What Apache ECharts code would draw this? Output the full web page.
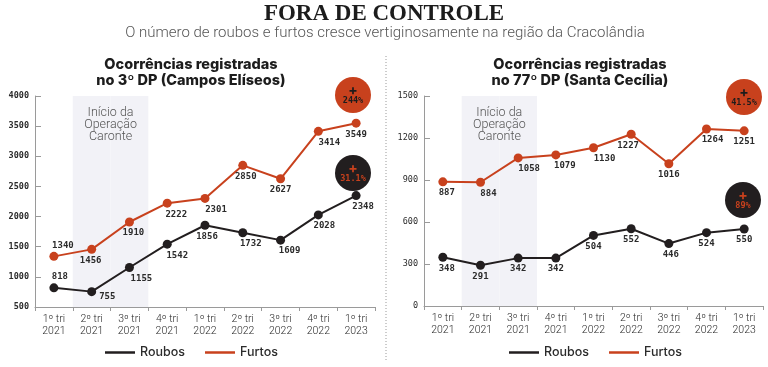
<!DOCTYPE html>
<html><head><meta charset="utf-8">
<script src="https://cdn.jsdelivr.net/npm/echarts@6/dist/echarts.min.js"></script>
<style>html,body{margin:0;padding:0;background:#fff}#c{width:768px;height:367px}</style>
</head><body><div id="c"></div>
<script>
// ---- data ----
const categories = ['1º tri\n2021','2º tri\n2021','3º tri\n2021','4º tri\n2021','1º tri\n2022','2º tri\n2022','3º tri\n2022','4º tri\n2022','1º tri\n2023'];
const operacaoCaronte = ['2º tri\n2021','3º tri\n2021'];
const roubos3DP  = [818, 755, 1155, 1542, 1856, 1732, 1609, 2028, 2348];
const furtos3DP  = [1340, 1456, 1910, 2222, 2301, 2850, 2627, 3414, 3549];
const roubos77DP = [348, 291, 342, 342, 504, 552, 446, 524, 550];
const furtos77DP = [887, 884, 1058, 1079, 1130, 1227, 1016, 1264, 1251];
const yTicks3DP  = [500, 1000, 1500, 2000, 2500, 3000, 3500, 4000];
const yTicks77DP = [0, 300, 600, 900, 1200, 1500];
const growthFurtos = ['244%', '41.5%'];
const growthRoubos = ['31.1%', '89%'];
const seriesNames = ['Roubos', 'Furtos'];
const bandText = ['Início da', 'Operação', 'Caronte'];

// ---- label placement (style only) ----
const lpFurtos3DP  = [['top',9],['bottom',-1],['bottom',4],['bottom',9],['bottom',11],['bottom',3],['bottom',0],['bottom',11],['bottom',0]];
const lpRoubos3DP  = [['top',6],['right',0],['bottom',12],['bottom',10],['bottom',2],['bottom',8],['bottom',9],['bottom',6],['bottom',7]];
const lpFurtos77DP = [['bottom',4],['bottom',8],['bottom',11],['bottom',9],['bottom',11],['bottom',-3],['bottom',0],['bottom',6],['bottom',0]];
const lpRoubos77DP = [['bottom',4],['bottom',0],['bottom',0],['bottom',0],['bottom',0],['bottom',0],['bottom',2],['bottom',0],['bottom',0]];

const RED = '#c8411d', BLACK = '#221e1f', AXIS = '#9a9a9a', TXT = '#2b2b2b';
const MONO = '"DejaVu Sans Mono", monospace';
const SANS = 'Inter, Roboto, sans-serif';

function pts(vals, lp) {
  return vals.map((v, i) => {
    const [pos, dx] = lp[i];
    const lab = { position: pos, offset: [dx, 0] };
    if (pos === 'right') { lab.offset = [0, 5]; lab.distance = 3; }
    return { value: v, label: lab };
  });
}
function lineSeries(name, vals, lp, color, idx) {
  return {
    name, type: 'line', xAxisIndex: idx, yAxisIndex: idx,
    data: pts(vals, lp), symbol: 'circle', symbolSize: 9,
    lineStyle: { color, width: 2 }, itemStyle: { color },
    label: { show: true, distance: 2, fontFamily: MONO, fontWeight: 'bold', fontSize: 9, color: TXT },
    z: 3
  };
}
function bandSeries(idx, ticks) {
  const top = ticks[ticks.length - 1];
  return {
    type: 'bar', xAxisIndex: idx, yAxisIndex: idx, silent: true,
    data: categories.map(c => operacaoCaronte.includes(c) ? top : '-'),
    barWidth: '100%', itemStyle: { color: '#f2f2f7' }, z: 0
  };
}
function xAxis(idx) {
  return {
    type: 'category', gridIndex: idx, data: categories, boundaryGap: true,
    axisLine: { lineStyle: { color: AXIS, width: 1 } },
    axisTick: { show: true, length: 4, lineStyle: { color: AXIS } },
    axisLabel: { fontFamily: 'Roboto', fontWeight: 300, fontSize: 10.5, lineHeight: 12, color: TXT, margin: 6, interval: 0 }
  };
}
function yAxis(idx, ticks, bold) {
  return {
    type: 'value', gridIndex: idx, min: ticks[0], max: ticks[ticks.length - 1],
    interval: ticks[1] - ticks[0],
    axisLine: { show: true, lineStyle: { color: AXIS } },
    axisTick: { show: true, inside: true, length: 6, lineStyle: { color: AXIS } },
    splitLine: { show: false },
    axisLabel: { fontFamily: MONO, fontWeight: bold ? 'bold' : 'normal', fontSize: 8.5, color: TXT, margin: 6,
      formatter: v => String(v) }
  };
}
function badge(cx, cy, fill, fg, txt) {
  return {
    type: 'group', x: cx, y: cy, silent: true, children: [
      { type: 'circle', shape: { cx: 0, cy: 0, r: 18 }, style: { fill } },
      { type: 'text', x: 0, y: -4, style: { text: '+', fill: fg, fontFamily: SANS, fontWeight: 'bold', fontSize: 14, align: 'center', verticalAlign: 'middle' } },
      { type: 'text', x: 0, y: 6, style: { text: txt, fill: fg, fontFamily: MONO, fontWeight: 'bold', fontSize: 8.5, align: 'center', verticalAlign: 'middle' } }
    ]
  };
}
const legendBase = {
  data: seriesNames, icon: 'rect', itemWidth: 30, itemHeight: 2.5, itemGap: 20, top: 341,
  textStyle: { fontFamily: SANS, fontWeight: 500, fontSize: 12.5, color: TXT }, selectedMode: false
};
const subTitleStyle = { fontFamily: SANS, fontWeight: 800, fontSize: 14.5, color: '#1c1c1c', lineHeight: 16 };

const chart = echarts.init(document.getElementById('c'));
chart.setOption({
  animation: false,
  backgroundColor: '#fff',
  title: [
    { text: 'FORA DE CONTROLE', left: 384, textAlign: 'center', top: 3, padding: 0,
      textStyle: { fontFamily: '"Liberation Serif", serif', fontWeight: 'bold', fontSize: 23, color: '#1c1c1c' } },
    { text: 'O número de roubos e furtos cresce vertiginosamente na região da Cracolândia', left: 385, textAlign: 'center', top: 26, padding: 0,
      textStyle: { fontFamily: 'Roboto', fontWeight: 300, fontSize: 15, color: '#555' } },
    { text: 'Ocorrências registradas\nno 3º DP (Campos Elíseos)', left: 191, textAlign: 'center', top: 57, padding: 0, textStyle: subTitleStyle },
    { text: 'Ocorrências registradas\nno 77º DP (Santa Cecília)', left: 580, textAlign: 'center', top: 57, padding: 0, textStyle: subTitleStyle }
  ],
  legend: [
    Object.assign({ left: 100 }, legendBase),
    Object.assign({ left: 504 }, legendBase)
  ],
  grid: [
    { left: 35, right: 393, top: 96, bottom: 60 },
    { left: 424, right: 5, top: 96, bottom: 61 }
  ],
  xAxis: [xAxis(0), xAxis(1)],
  yAxis: [yAxis(0, yTicks3DP, true), yAxis(1, yTicks77DP, false)],
  series: [
    bandSeries(0, yTicks3DP),
    bandSeries(1, yTicks77DP),
    lineSeries(seriesNames[0], roubos3DP, lpRoubos3DP, BLACK, 0),
    lineSeries(seriesNames[1], furtos3DP, lpFurtos3DP, RED, 0),
    lineSeries(seriesNames[0], roubos77DP, lpRoubos77DP, BLACK, 1),
    lineSeries(seriesNames[1], furtos77DP, lpFurtos77DP, RED, 1)
  ]
});

// annotations placed from the axes
function bandLabels(idx, ticks) {
  const a = chart.convertToPixel({ gridIndex: idx }, [operacaoCaronte[0], ticks[ticks.length - 1]]);
  const b = chart.convertToPixel({ gridIndex: idx }, [operacaoCaronte[operacaoCaronte.length - 1], ticks[ticks.length - 1]]);
  const cx = (a[0] + b[0]) / 2;
  return bandText.map((t, i) => ({
    type: 'text', x: cx, y: a[1] + 17 + i * 12, silent: true, z: 10,
    style: { text: t, fill: '#555', fontFamily: 'Roboto', fontWeight: 300, fontSize: 12.5, align: 'center', verticalAlign: 'middle' }
  }));
}
chart.setOption({
  graphic: [
    { type: 'line', shape: { x1: 386, y1: 56, x2: 386, y2: 362 }, style: { stroke: '#999', lineWidth: 1, lineDash: [1, 2] }, silent: true },
    ...bandLabels(0, yTicks3DP),
    ...bandLabels(1, yTicks77DP),
    badge(353, 95, RED, '#1c1c1c', growthFurtos[0]),
    badge(353, 173, BLACK, RED, growthRoubos[0]),
    badge(744, 97, RED, '#1c1c1c', growthFurtos[1]),
    badge(743, 200, BLACK, RED, growthRoubos[1])
  ]
});
</script>
</body></html>
